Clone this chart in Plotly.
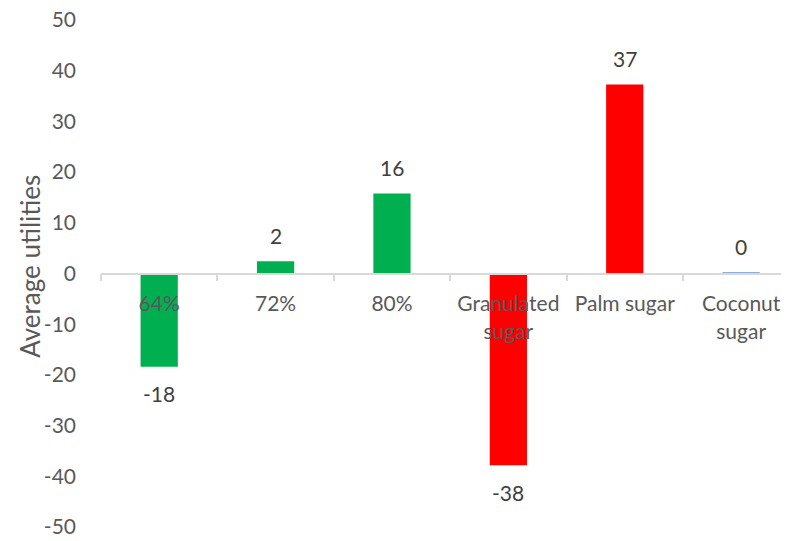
import plotly.graph_objects as go

categories = ["64%", "72%", "80%", "Granulated<br>sugar", "Palm sugar", "Coconut<br>sugar"]
values = [-18.4, 2.4, 15.8, -37.8, 37.3, 0.2]
labels = ["-18", "2", "16", "-38", "37", "0"]
colors = ["#00B050", "#00B050", "#00B050", "#FF0000", "#FF0000", "#8FAADC"]
y_ticks = [-50, -40, -30, -20, -10, 0, 10, 20, 30, 40, 50]
y_tick_labels = ["-50", "-40", "-30", "-20", "-10", "0", "10", "20", "30", "40", "50"]
y_title = "Average utilities"

FONT = "Lato, 'Open Sans', sans-serif"
GREY = "#595959"
FS = 21

fig = go.Figure()
fig.add_trace(go.Bar(x=categories, y=values, marker=dict(color=colors, line=dict(width=0)),
                     width=0.32, showlegend=False, hoverinfo="skip"))

for c, v, t in zip(categories, values, labels):
    fig.add_annotation(x=c, y=v, text=t, showarrow=False, yanchor="middle",
                       yshift=26 if v >= 0 else -27,
                       font=dict(family=FONT, size=FS, color="#404040"))

fig.add_annotation(xref="paper", yref="paper", x=-0.103, y=0.5, yshift=7,
                   xanchor="center", yanchor="middle", textangle=-90,
                   text=y_title, showarrow=False,
                   font=dict(family=FONT, size=26, color=GREY))

fig.update_layout(
    width=789, height=541,
    margin=dict(l=93, r=0, t=12, b=22),
    paper_bgcolor="white", plot_bgcolor="white",
    font=dict(family=FONT, size=FS, color=GREY),
    xaxis=dict(
        type="category", range=[-0.5, 5.48],
        anchor="free", position=0.5,
        showline=True, linecolor="#D9D9D9", linewidth=1.5,
        ticks="outside", tickson="boundaries", ticklen=7, tickcolor="#D9D9D9", tickwidth=1.5,
        ticklabelstandoff=12, ticklabeloverflow="allow",
        showgrid=False, zeroline=False,
        tickfont=dict(family=FONT, size=FS, color=GREY),
    ),
    yaxis=dict(
        range=[-50, 50], tickvals=y_ticks, ticktext=y_tick_labels,
        showgrid=False, zeroline=False,
        showline=False, ticks="", ticklabelstandoff=24, ticklabeloverflow="allow",
        tickfont=dict(family=FONT, size=FS, color=GREY),
        automargin=False,
    ),
)

fig.write_html("out.html")
